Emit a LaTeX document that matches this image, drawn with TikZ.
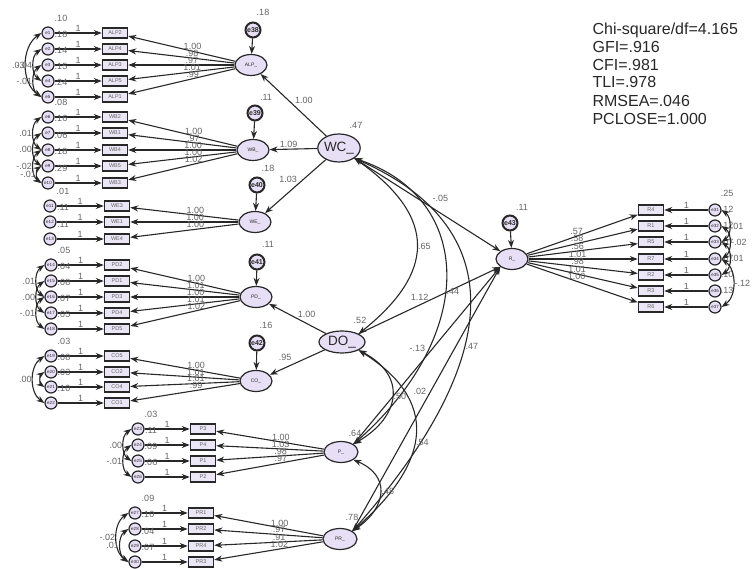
\documentclass[tikz,border=0pt]{standalone}
\usepackage{fontspec}
\setmainfont{Liberation Sans}
\usepackage{xcolor}
\definecolor{lavend}{RGB}{231,223,245}
\definecolor{boxfill}{RGB}{235,230,246}
\definecolor{ink}{RGB}{40,40,40}
\definecolor{numgray}{RGB}{100,100,100}
\usetikzlibrary{arrows.meta,shapes.geometric}

\begin{document}
\begin{tikzpicture}[x=1pt,y=1pt,>={Stealth[length=8pt,width=6pt]},line width=1.1pt,color=ink]
        \tikzstyle{latent}=[ellipse,draw=ink,fill=lavend,line width=1.2pt,inner sep=0pt,minimum width=32pt,minimum height=21pt,font=\fontsize{5}{5}\selectfont]
        \tikzstyle{biglat}=[latent,minimum width=42pt,minimum height=28pt,font=\fontsize{13.5}{14}\selectfont]
        \tikzstyle{obs}=[rectangle,draw=ink,fill=boxfill,line width=1.5pt,inner sep=0pt,minimum width=25pt,minimum height=10pt,text=numgray,font=\fontsize{5.5}{6}\selectfont]
        \tikzstyle{err}=[circle,draw=ink,fill=lavend,line width=1.2pt,inner sep=0pt,minimum size=12pt,font=\fontsize{4.5}{5}\selectfont]
        \tikzstyle{lerr}=[circle,draw=ink,fill=lavend,line width=2pt,inner sep=0pt,minimum size=15pt,font=\bfseries\fontsize{7}{7}\selectfont]
        \tikzstyle{lbl}=[inner sep=1pt,text=numgray,font=\fontsize{9}{9}\selectfont]
        \tikzstyle{fitstat}=[anchor=base west,inner sep=0pt,text=ink,font=\fontsize{16}{18}\selectfont]

        \useasboundingbox (0,0) rectangle (753,-569);

        % latent factors
        \node[latent] (ALP) at (251,-65)  {ALP\_};
        \node[latent] (WB)  at (253,-150) {WB\_};
        \node[latent] (WE)  at (255,-222) {WE\_};
        \node[latent] (PD)  at (256,-297) {PD\_};
        \node[latent] (CO)  at (256,-381) {CO\_};
        \node[biglat] (WC)  at (339,-148) {WC\_};
        \node[biglat,minimum width=46pt,minimum height=22pt] (DO) at (342,-342) {DO\_};
        \node[latent] (R)   at (512,-259) {R\_};
        \node[latent,minimum width=34pt] (P)  at (341,-452) {P\_};
        \node[latent,minimum width=34pt] (PR) at (340,-539) {PR\_};

        \node[lbl] at (356,-125) {.47};
        \node[lbl] at (360,-320) {.52};
        \node[lbl] at (355,-433) {.64};
        \node[lbl] at (352,-517) {.78};

        % disturbances of the endogenous factors
        \node[lerr] (e38) at (253,-30)  {e38};
        \node[lerr] (e39) at (255,-113) {e39};
        \node[lerr] (e40) at (257,-185) {e40};
        \node[lerr] (e41) at (257,-262) {e41};
        \node[lerr] (e42) at (257,-343) {e42};
        \node[lerr] (e43) at (510,-223) {e43};
        \path[->] (e38) edge (ALP)
                  (e39) edge (WB)
                  (e40) edge (WE)
                  (e41) edge (PD)
                  (e42) edge (CO)
                  (e43) edge (R);
        \node[lbl] at (263,-12)  {.18};
        \node[lbl] at (266,-97)  {.11};
        \node[lbl] at (268,-168) {.18};
        \node[lbl] at (268,-244) {.11};
        \node[lbl] at (266,-325) {.16};
        \node[lbl] at (522,-207) {.11};

        % second order paths
        \path[->] (WC) edge node[lbl,pos=0.5,above right]{1.00} (ALP)
                       edge node[lbl,pos=0.6,above]{1.09} (WB)
                       edge node[lbl,pos=0.45,above left]{1.03} (WE)
                  (DO) edge node[lbl,pos=0.34,above=4pt]{1.00} (PD)
                       edge node[lbl,pos=0.72,above=6pt]{.95} (CO);

        % indicators, left blocks
        \foreach \ind/\yy/\ld/\vr/\er in {ALP2/33/1.00/.10/e1,ALP4/49/.98/.18/e2,ALP3/65/.97/.14/e3,ALP5/81/1.01/.15/e4,ALP1/97/.99/.24/e5}{
            \node[obs] (\ind) at (115,-\yy) {\ind};
            \node[err] (\er)  at (48,-\yy)  {\er};
            \node[lbl] at (61,-\yy+15) {\vr};
            \draw[->] (\er) -- node[lbl,above]{1} (\ind);
            \draw[->] (ALP) -- node[lbl,pos=0.4,above]{\ld} (\ind);
        }
        \foreach \ind/\yy/\ld/\vr/\er in {WB2/117/1.00/.08/e6,WB1/133/.97/.16/e7,WB4/150/1.00/.06/e8,WB5/166/1.00/.18/e9,WB3/183/1.02/.29/e10}{
            \node[obs] (\ind) at (115,-\yy) {\ind};
            \node[err] (\er)  at (48,-\yy)  {\er};
            \node[lbl] at (61,-\yy+15) {\vr};
            \draw[->] (\er) -- node[lbl,above]{1} (\ind);
            \draw[->] (WB) -- node[lbl,pos=0.4,above]{\ld} (\ind);
        }
        \foreach \ind/\yy/\ld/\vr/\er in {WE3/206/1.00/.01/e11,WE1/222/1.00/.11/e12,WE4/239/1.00/.11/e13}{
            \node[obs] (\ind) at (117,-\yy) {\ind};
            \node[err] (\er)  at (50,-\yy)  {\er};
            \node[lbl] at (63,-\yy+15) {\vr};
            \draw[->] (\er) -- node[lbl,above]{1} (\ind);
            \draw[->] (WE) -- node[lbl,pos=0.4,above]{\ld} (\ind);
        }
        \foreach \ind/\yy/\ld/\vr/\er in {PD2/265/1.00/.05/e14,PD1/281/1.01/.04/e15,PD3/297/1.00/.08/e16,PD4/313/1.01/.07/e17,PD5/329/1.02/.05/e18}{
            \node[obs] (\ind) at (117,-\yy) {\ind};
            \node[err] (\er)  at (51,-\yy)  {\er};
            \node[lbl] at (64,-\yy+15) {\vr};
            \draw[->] (\er) -- node[lbl,above]{1} (\ind);
            \draw[->] (PD) -- node[lbl,pos=0.4,above]{\ld} (\ind);
        }
        \foreach \ind/\yy/\ld/\vr/\er in {CO5/356/1.00/.03/e19,CO2/372/1.01/.08/e20,CO4/387/1.01/.03/e21,CO1/403/.99/.10/e22}{
            \node[obs] (\ind) at (117,-\yy) {\ind};
            \node[err] (\er)  at (51,-\yy)  {\er};
            \node[lbl] at (64,-\yy+15) {\vr};
            \draw[->] (\er) -- node[lbl,above]{1} (\ind);
            \draw[->] (CO) -- node[lbl,pos=0.4,above]{\ld} (\ind);
        }
        \foreach \ind/\yy/\ld/\vr/\er in {P3/429/1.00/.03/e23,P4/445/1.03/.11/e24,P1/461/.98/.09/e25,P2/477/.97/.06/e26}{
            \node[obs] (\ind) at (203,-\yy) {\ind};
            \node[err] (\er)  at (138,-\yy) {\er};
            \node[lbl] at (151,-\yy+15) {\vr};
            \draw[->] (\er) -- node[lbl,above]{1} (\ind);
            \draw[->] (P) -- node[lbl,pos=0.4,above]{\ld} (\ind);
        }
        \foreach \ind/\yy/\ld/\vr/\er in {PR1/513/1.00/.09/e27,PR2/529/.97/.10/e28,PR4/546/.91/.04/e29,PR3/562/1.02/.07/e30}{
            \node[obs] (\ind) at (201,-\yy) {\ind};
            \node[err] (\er)  at (135,-\yy) {\er};
            \node[lbl] at (148,-\yy+15) {\vr};
            \draw[->] (\er) -- node[lbl,above]{1} (\ind);
            \draw[->] (PR) -- node[lbl,pos=0.4,above]{\ld} (\ind);
        }

        % indicators of R_, right block
        \foreach \ind/\yy/\ld/\vr/\er in {R4/210/.57/.25/e31,R1/226/.58/.12/e32,R5/242/.56/.12/e33,R7/259/1.01/.07/e34,R2/275/.98/.07/e35,R3/291/1.01/.10/e36,R6/307/1.00/.13/e37}{
            \node[obs] (\ind) at (651,-\yy) {\ind};
            \node[err] (\er)  at (715,-\yy) {\er};
            \node[lbl] at (727,-\yy+17) {\vr};
            \draw[->] (\er) -- node[lbl,above]{1} (\ind);
            \draw[->] (R) -- node[lbl,pos=0.45,above]{\ld} (\ind);
        }

        % error covariances
        \foreach \ea/\eb/\cv in {e1/e5/.03,e2/e4/-.04,e3/e5/-.01,e6/e8/.01,e7/e9/.00,e8/e10/-.02,e9/e10/-.01,e14/e16/.01,e15/e17/.00,e16/e18/-.01,e19/e22/.00,e23/e25/.00,e24/e26/-.01,e27/e30/-.02,e28/e30/.01}
            \draw[<->] (\ea.west) to[bend right=55] node[lbl,left]{\cv} (\eb.west);
        \draw[<->] (e20.west) to[bend right=55] (e21.west);
        \foreach \ea/\eb/\cv in {e31/e33/.01,e32/e34/-.02,e33/e35/.01,e34/e37/-.12}
            \draw[<->] (\ea.east) to[bend left=55] node[lbl,right]{\cv} (\eb.east);

        % structural paths on R_
        \path[->] (WC.south east) edge node[lbl,pos=0.59,above=10pt]{-.05} (R.north west)
                  (DO.north east) edge node[lbl,pos=0.43,above=3pt]{1.12} (R.south west)
                  (P.north east)  edge node[lbl,pos=0.54,left=6pt]{-.13} (R.south west)
                  (PR.north east) edge node[lbl,pos=0.53,left=3pt]{.02} (R.south west);

        % factor covariances
        \draw[<->] (WC.south east) .. controls +(85,-60) and +(75,60) .. node[lbl,right]{.65} (DO.north east);
        \draw[<->] (WC.south east) .. controls +(120,-40) and +(125,110) .. node[lbl,pos=0.55,right]{.44} (P.north east);
        \draw[<->] (WC.south east) .. controls +(160,-70) and +(150,170) .. node[lbl,pos=0.6,right]{.47} (PR.north east);
        \draw[<->] (DO.south east) .. controls +(48,-25) and +(48,28) .. node[lbl,right]{.50} (P.north east);
        \draw[<->] (DO.south east) .. controls +(80,-50) and +(80,70) .. node[lbl,pos=0.55,right]{.54} (PR.north east);
        \draw[<->] (P.south east) .. controls +(36,-15) and +(36,25) .. node[lbl,right]{.48} (PR.north east);

        % fit indices
        \node[fitstat] (chisq)  at (592,-35)  {Chi-square/df=4.165};
        \node[fitstat] (gfi)    at (592,-53)  {GFI=.916};
        \node[fitstat] (cfi)    at (592,-71)  {CFI=.981};
        \node[fitstat] (tli)    at (592,-88)  {TLI=.978};
        \node[fitstat] (rmsea)  at (592,-107) {RMSEA=.046};
        \node[fitstat] (pclose) at (592,-125) {PCLOSE=1.000};
\end{tikzpicture}
\end{document}
